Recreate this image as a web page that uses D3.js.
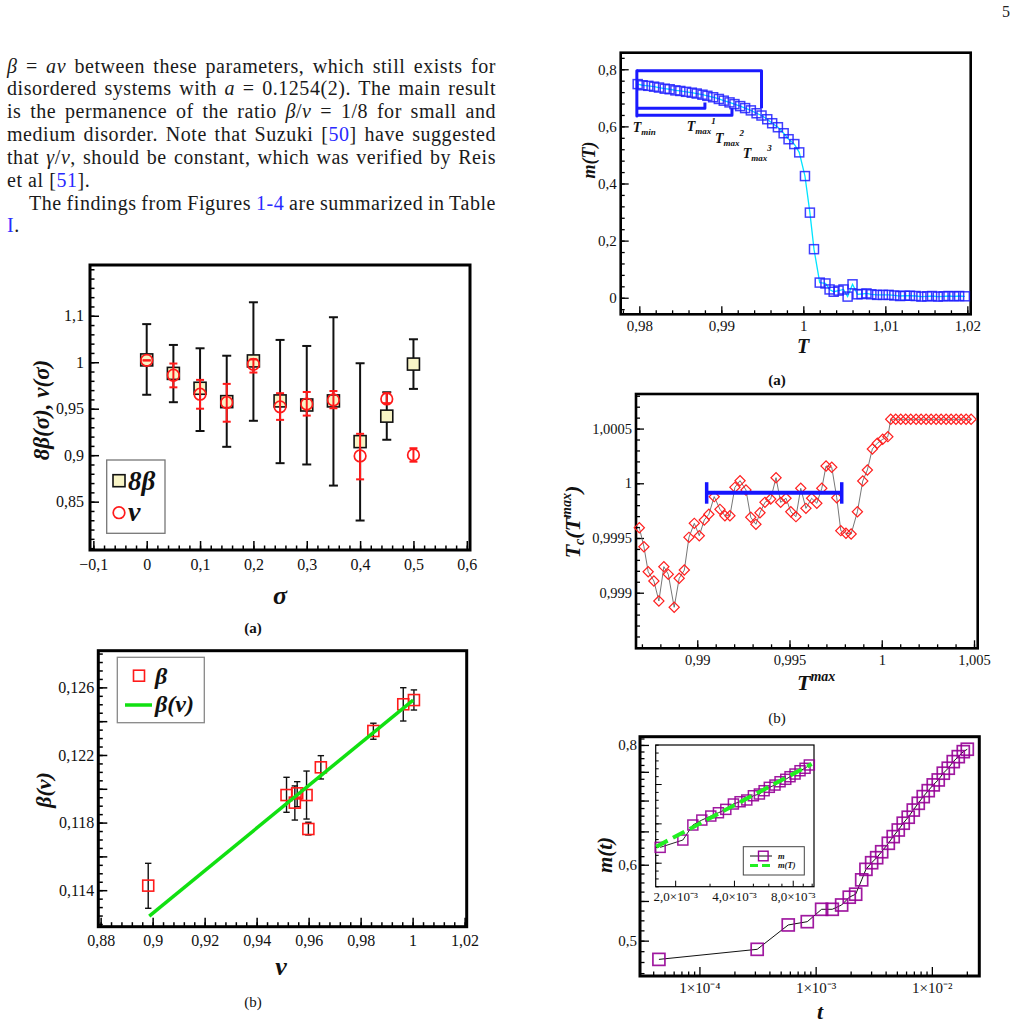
<!DOCTYPE html>
<html>
<head>
<meta charset="utf-8">
<script src="https://cdn.jsdelivr.net/npm/d3@7"></script>
<style>
  body { margin: 0; background: #fff; }
  svg { display: block; }
  text { font-family: "Liberation Serif", "Times New Roman", serif; }
</style>
</head>
<body>
<svg id="page" width="1029" height="1027"></svg>
<script>
// ---------- data ----------

// (a) left: 8*beta and nu versus sigma
const sigma   = [0, 0.05, 0.1, 0.15, 0.2, 0.25, 0.3, 0.35, 0.4, 0.45, 0.5];
const beta8   = [1.0025, 0.988, 0.972, 0.9576, 1.0014, 0.9584, 0.954, 0.9584, 0.9146, 0.942, 0.998];
const beta8Lo = [0.965, 0.957, 0.926, 0.909, 0.937, 0.8914, 0.890, 0.8673, 0.8297, 0.9166, 0.9713];
const beta8Hi = [1.041, 1.0186, 1.015, 1.007, 1.0645, 1.024, 1.0175, 1.0484, 0.9989, 0.9677, 1.0247];
const nuVal   = [1.002, 0.986, 0.9656, 0.9566, 0.9978, 0.952, 0.955, 0.9594, 0.8992, 0.9605, 0.9003];
const nuLo    = [1.002, 0.973, 0.950, 0.936, 0.9889, 0.938, 0.9426, 0.9505, 0.874, 0.956, 0.893];
const nuHi    = [1.002, 0.9986, 0.981, 0.9767, 1.003, 0.9667, 0.968, 0.969, 0.923, 0.9667, 0.9075];
const sigmaTicks = ["\u22120,1", "0", "0,1", "0,2", "0,3", "0,4", "0,5", "0,6"];
const ratioTicks = ["0,85", "0,9", "0,95", "1", "1,1"];

// (b) left: beta versus nu
const nuB     = [0.8983, 0.9515, 0.9547, 0.9556, 0.9592, 0.9599, 0.9647, 0.9849, 0.9964, 1.0005];
const betaB   = [0.11427, 0.11963, 0.11918, 0.11973, 0.11963, 0.11762, 0.12127, 0.12342, 0.1250, 0.12525];
const betaBLo = [0.11293, 0.11861, 0.11815, 0.11894, 0.11821, 0.11727, 0.12058, 0.12293, 0.12401, 0.12466];
const betaBHi = [0.11559, 0.12068, 0.12017, 0.12042, 0.12105, 0.11802, 0.12196, 0.12388, 0.12598, 0.12585];
const fitNu   = [0.8987, 1.0002];
const fitBeta = [0.11247, 0.12525];
const nuTicks   = ["0,88", "0,9", "0,92", "0,94", "0,96", "0,98", "1", "1,02"];
const betaTicks = ["0,114", "", "0,118", "", "0,122", "", "0,126"];

// (a) right: m(T)
const tempT = [0.9798, 0.9804, 0.9811, 0.9818, 0.9824, 0.9831, 0.9837, 0.9844, 0.9850, 0.9857,
               0.9864, 0.9870, 0.9877, 0.9883, 0.9890, 0.9897, 0.9903, 0.9910, 0.9916, 0.9923,
               0.9929, 0.9936, 0.9943, 0.9949, 0.9956, 0.9962, 0.9969, 0.9976, 0.9982, 0.9989,
               0.9995, 1.0002, 1.0008, 1.0013, 1.0020, 1.0027, 1.0032, 1.0037, 1.0043, 1.0049,
               1.0054, 1.0060, 1.0066, 1.0071, 1.0077, 1.0083, 1.0090, 1.0097, 1.0104, 1.0111,
               1.0118, 1.0124, 1.0130, 1.0137, 1.0144, 1.0151, 1.0157, 1.0164, 1.0171, 1.0177,
               1.0184, 1.0190, 1.0197];
const magT  = [0.748, 0.744, 0.742, 0.739, 0.736, 0.732, 0.730, 0.726, 0.724, 0.721,
               0.718, 0.715, 0.711, 0.707, 0.702, 0.696, 0.690, 0.684, 0.678, 0.671,
               0.664, 0.656, 0.646, 0.638, 0.625, 0.611, 0.597, 0.576, 0.555, 0.538,
               0.509, 0.426, 0.298, 0.170, 0.053, 0.050, 0.029, 0.021, 0.025, 0.029,
               0.004, 0.047, 0.012, 0.013, 0.015, 0.012, 0.010, 0.010, 0.010, 0.008,
               0.006, 0.007, 0.007, 0.006, 0.004, 0.005, 0.006, 0.004, 0.005, 0.006,
               0.005, 0.006, 0.005];
const tMin = 0.9797;
const tMaxMarks   = [0.9880, 0.9913, 0.9949];
const bracketLine = [0.6634, 0.639, 0.795];
const bracketEnd  = [0.684, 0.6634, 0.6634];
const bracketLeft = [0.795, 0.636];
const tempTicks = ["0,98", "0,99", "1", "1,01", "1,02"];
const magTicks  = ["0", "0,2", "0,4", "0,6", "0,8"];

// (b) right: Tc(Tmax)
const tMaxB = [0.98686, 0.98711, 0.98734, 0.98765, 0.98792, 0.98819, 0.98843, 0.98875, 0.98902, 0.98930,
               0.98955, 0.98984, 0.99011, 0.99038, 0.99063, 0.99092, 0.99123, 0.99150, 0.99177, 0.99204,
               0.99232, 0.99264, 0.99290, 0.99318, 0.99340, 0.99367, 0.99398, 0.99427, 0.99452, 0.99481,
               0.99507, 0.99535, 0.99561, 0.99589, 0.99620, 0.99648, 0.99675, 0.99698, 0.99729, 0.99756,
               0.99778, 0.99806, 0.99834, 0.99868, 0.99897, 0.99922, 0.99949, 0.99976, 1.00005, 1.00033,
               1.000486, 1.000757, 1.001029, 1.001300, 1.001571, 1.001860, 1.002131, 1.002402, 1.002674,
               1.002945, 1.003216, 1.003487, 1.003758, 1.004029, 1.004300, 1.004572, 1.004843];
const tcB   = [0.999594, 0.99942, 0.999192, 0.999107, 0.998924, 0.999238, 0.999168, 0.998867, 0.999132, 0.999207,
               0.999506, 0.999634, 0.999521, 0.999665, 0.999717, 0.999878, 0.999762, 0.999704, 0.999704, 0.999963,
               1.000024, 0.999939, 0.999689, 0.999625, 0.999731, 0.999826, 0.999856, 1.000051, 0.999826, 0.999863,
               0.999740, 0.999695, 0.999954, 0.999771, 0.999863, 0.999817, 0.999954, 1.000158, 1.000146, 0.999868,
               0.999567, 0.999543, 0.999537, 0.999740, 1.000021, 1.000122, 1.000314, 1.000366, 1.000402, 1.000426,
               1.000585, 1.000585, 1.000585, 1.000585, 1.000585, 1.000585, 1.000585, 1.000585, 1.000585,
               1.000585, 1.000585, 1.000585, 1.000585, 1.000585, 1.000585, 1.000585, 1.000585];
const plateau = { from: 0.99051, to: 0.99783, tc: 0.999914 };
const tmaxTicks = ["0,99", "0,995", "1", "1,005"];
const tcTicks   = ["0,999", "0,9995", "1", "1,0005"];

// (c) right: m(t), log-log, with inset
const timeMain = [4.48e-5, 3.14e-4, 5.81e-4, 8.47e-4, 1.126e-3, 1.39e-3, 1.674e-3, 1.946e-3, 2.21e-3, 2.49e-3,
                  2.709e-3, 3.033e-3, 3.35e-3, 3.70e-3, 4.22e-3, 4.65e-3, 5.14e-3, 5.67e-3, 6.26e-3, 6.92e-3,
                  7.64e-3, 8.43e-3, 9.31e-3, 1.028e-2, 1.135e-2, 1.254e-2, 1.384e-2, 1.528e-2, 1.688e-2, 1.864e-2,
                  2.018e-2];
const magMain  = [0.478, 0.4897, 0.5192, 0.5233, 0.5391, 0.5391, 0.5447, 0.555, 0.559, 0.5786,
                  0.5934, 0.6029, 0.6102, 0.6190, 0.6317, 0.6419, 0.6522, 0.6629, 0.6725, 0.6842,
                  0.6954, 0.7066, 0.7168, 0.7268, 0.7355, 0.7475, 0.7565, 0.7686, 0.7778, 0.7872,
                  0.7918];
const timeIn = [1.676e-3, 2.19e-3, 2.464e-3, 2.739e-3, 3.045e-3, 3.331e-3, 3.634e-3, 3.974e-3, 4.30e-3, 4.654e-3,
                5.03e-3, 5.40e-3, 5.71e-3, 6.07e-3, 6.49e-3, 6.89e-3, 7.37e-3, 7.75e-3, 8.22e-3, 8.72e-3,
                9.25e-3, 9.73e-3];
const magIn  = [0.6195, 0.6288, 0.6479, 0.6542, 0.6593, 0.6635, 0.6678, 0.6746, 0.6775, 0.6797,
                0.6851, 0.6873, 0.6915, 0.6958, 0.6987, 0.7029, 0.706, 0.7093, 0.7127, 0.7169,
                0.72, 0.7242];
const fitTimeIn = [1.599e-3, 1.0008e-2];
const fitMagIn  = [0.6203, 0.7254];
const timeTicks = ["1\u00d710\u207b\u2074", "1\u00d710\u207b\u00b3", "1\u00d710\u207b\u00b2"];
const insetTicks = ["2,0\u00d710\u207b\u00b3", "4,0\u00d710\u207b\u00b3", "8,0\u00d710\u207b\u00b3"];
const mtTicks = ["0,5", "", "0,6", "", "", "", "0,8"];

// ---------- drawing ----------
const svg = d3.select("#page");
const serif = '"Liberation Serif", "Times New Roman", serif';

function styleAxis(sel, fs, lw) {
  sel.select(".domain").remove();
  sel.selectAll(".tick line").attr("stroke", "#000").attr("stroke-width", lw || 1.3);
  sel.selectAll(".tick text").attr("fill", "#111")
    .style("font-family", serif).style("font-size", fs + "px");
}

function panel(o) {
  const g = svg.append("g");
  const x = (o.xlog ? d3.scaleLog() : d3.scaleLinear()).domain(o.xd).range([o.left, o.right]);
  const y = (o.ylog ? d3.scaleLog() : d3.scaleLinear()).domain(o.yd).range([o.bottom, o.top]);
  const fs = o.fs || 15;
  if (o.fill) {
    g.append("rect").attr("x", o.left).attr("y", o.top)
      .attr("width", o.right - o.left).attr("height", o.bottom - o.top).attr("fill", o.fill);
  }
  g.append("g").attr("transform", `translate(0,${o.bottom})`)
    .call(d3.axisBottom(x).tickValues(o.xMinor).tickSize(-o.minor).tickFormat(""))
    .call(s => styleAxis(s, fs, o.tickW));
  g.append("g").attr("transform", `translate(0,${o.bottom})`)
    .call(d3.axisBottom(x).tickValues(o.xMajor).tickSize(-o.major).tickPadding(o.xPad)
      .tickFormat((d, i) => o.xLabels ? o.xLabels[i] : ""))
    .call(s => styleAxis(s, fs, o.tickW));
  g.append("g").attr("transform", `translate(${o.left},0)`)
    .call(d3.axisLeft(y).tickValues(o.yMinor).tickSize(-o.minor).tickFormat(""))
    .call(s => styleAxis(s, fs, o.tickW));
  g.append("g").attr("transform", `translate(${o.left},0)`)
    .call(d3.axisLeft(y).tickValues(o.yMajor).tickSize(-o.major).tickPadding(o.yPad)
      .tickFormat((d, i) => o.yLabels ? o.yLabels[i] : ""))
    .call(s => styleAxis(s, fs, o.tickW));
  g.append("rect").attr("x", o.left).attr("y", o.top)
    .attr("width", o.right - o.left).attr("height", o.bottom - o.top)
    .attr("fill", "none").attr("stroke", "#000").attr("stroke-width", o.frame);
  return { g, x, y };
}

function label(g, x, y, parts, size, opts) {
  opts = opts || {};
  const t = g.append("text").attr("x", x).attr("y", y)
    .attr("text-anchor", opts.anchor || "start")
    .style("font-size", size + "px")
    .style("font-weight", opts.weight || "bold")
    .style("font-style", opts.style || "italic")
    .attr("fill", "#111");
  if (opts.rotate) t.attr("transform", `rotate(-90,${x},${y})`);
  parts.forEach(p => {
    const s = t.append("tspan").text(p.t);
    if (p.sub) s.attr("dy", p.dy || 4).style("font-size", (p.fs || size * 0.6) + "px");
    if (p.sup) s.attr("dy", p.dy || -size * 0.45).style("font-size", (p.fs || size * 0.6) + "px");
    if (p.back) s.attr("dy", p.back);
  });
  return t;
}

function errBars(g, xs, lo, hi, x, y, cap, color, w) {
  const idx = d3.range(xs.length);
  g.append("g").selectAll("line").data(idx).join("line")
    .attr("x1", i => x(xs[i])).attr("x2", i => x(xs[i]))
    .attr("y1", i => y(lo[i])).attr("y2", i => y(hi[i]))
    .attr("stroke", color).attr("stroke-width", w);
  [lo, hi].forEach(arr => {
    g.append("g").selectAll("line").data(idx).join("line")
      .attr("x1", i => x(xs[i]) - cap).attr("x2", i => x(xs[i]) + cap)
      .attr("y1", i => y(arr[i])).attr("y2", i => y(arr[i]))
      .attr("stroke", color).attr("stroke-width", w);
  });
}

function squares(g, xs, ys, x, y, side, stroke, fill, w, op) {
  g.append("g").selectAll("rect").data(d3.range(xs.length)).join("rect")
    .attr("x", i => x(xs[i]) - side / 2).attr("y", i => y(ys[i]) - side / 2)
    .attr("width", side).attr("height", side)
    .attr("fill", fill).attr("stroke", stroke).attr("stroke-width", w)
    .attr("opacity", op || 1);
}

// ----- page text -----
svg.append("text").attr("x", 1006).attr("y", 17).attr("text-anchor", "middle")
  .style("font-size", "16px").attr("fill", "#222").text("5");

const blue = "#2a2aff";
const lines = [
  { x: 7, w: 489, p: [["β", "i"], [" = "], ["aν", "i"], [" between these parameters, which still exists for"]] },
  { x: 7, w: 489, p: [["disordered systems with "], ["a", "i"], [" = 0.1254(2). The main result"]] },
  { x: 7, w: 489, p: [["is the permanence of the ratio "], ["β", "i"], ["/"], ["ν", "i"], [" = 1/8 for small and"]] },
  { x: 7, w: 489, p: [["medium disorder. Note that Suzuki ["], ["50", "b"], ["] have suggested"]] },
  { x: 7, w: 489, p: [["that "], ["γ", "i"], ["/"], ["ν", "i"], [", should be constant, which was verified by Reis"]] },
  { x: 7, w: 0,   p: [["et al ["], ["51", "b"], ["]."]] },
  { x: 29, w: 467, p: [["The findings from Figures "], ["1-4", "b"], [" are summarized in Table"]] },
  { x: 7, w: 0,   p: [["I", "b"], ["."]] }
];
lines.forEach((ln, k) => {
  const t = svg.append("text").attr("x", ln.x).attr("y", 72.5 + k * 22.85)
    .style("font-size", "20px").style("letter-spacing", "0.55px")
    .style("white-space", "pre").attr("fill", "#1a1a1a");
  ln.p.forEach(([s, f]) => {
    const sp = t.append("tspan").text(s);
    if (f === "i") sp.style("font-style", "italic");
    if (f === "b") sp.attr("fill", blue);
  });
  if (ln.w) {
    const natural = t.node().getComputedTextLength();
    const gaps = ln.p.map(d => d[0]).join("").split(" ").length - 1;
    t.style("word-spacing", ((ln.w - natural) / gaps) + "px");
  }
});

// ----- (a) left -----
{
  const P = panel({
    left: 90, right: 470, top: 265, bottom: 550,
    xd: [-0.1063, 0.606], yd: [0.798, 1.1046],
    xMajor: d3.range(-0.1, 0.61, 0.1), xLabels: sigmaTicks, xMinor: d3.range(-0.1, 0.606, 0.02),
    yMajor: [0.85, 0.9, 0.95, 1, 1.05], yLabels: ratioTicks, yMinor: d3.range(0.8, 1.1, 0.01),
    major: 9, minor: 4.5, xPad: 9, yPad: 6, fs: 16, frame: 3, tickW: 1.5
  });
  const { g, x, y } = P;
  errBars(g, sigma, beta8Lo, beta8Hi, x, y, 4.5, "#111", 2);
  squares(g, sigma, beta8, x, y, 12, "#111", "#f8f4c6", 1.6);
  errBars(g, sigma, nuLo, nuHi, x, y, 4, "#ff1a1a", 2);
  g.append("g").selectAll("circle").data(d3.range(sigma.length)).join("circle")
    .attr("cx", i => x(sigma[i])).attr("cy", i => y(nuVal[i])).attr("r", 5.8)
    .attr("fill", "none").attr("stroke", "#ff1a1a").attr("stroke-width", 1.7);

  // legend
  g.append("rect").attr("x", 106.7).attr("y", 460).attr("width", 58.3).attr("height", 73.3)
    .attr("fill", "#fff").attr("stroke", "#777").attr("stroke-width", 1.3);
  g.append("rect").attr("x", 113).attr("y", 474.7).attr("width", 12).attr("height", 12)
    .attr("fill", "#f8f4c6").attr("stroke", "#111").attr("stroke-width", 1.6);
  label(g, 128, 490, [{ t: "8β" }], 27);
  g.append("circle").attr("cx", 119).attr("cy", 512.7).attr("r", 5.8)
    .attr("fill", "none").attr("stroke", "#ff1a1a").attr("stroke-width", 1.7);
  label(g, 128, 521, [{ t: "ν" }], 28);

  label(g, 49, 410, [{ t: "8β(σ), ν(σ)" }], 23, { rotate: true, anchor: "middle" });
  label(g, 280, 604, [{ t: "σ" }], 26, { anchor: "middle" });
  label(g, 253, 633, [{ t: "(a)" }], 15, { anchor: "middle", style: "normal" });
}

// ----- (b) left -----
{
  const P = panel({
    left: 98.3, right: 466.7, top: 650.7, bottom: 926.7,
    xd: [0.8791, 1.0208], yd: [0.11184, 0.12817],
    xMajor: d3.range(0.88, 1.021, 0.02), xLabels: nuTicks, xMinor: d3.range(0.88, 1.0208, 0.004),
    yMajor: d3.range(0.114, 0.1271, 0.002), yLabels: betaTicks, yMinor: d3.range(0.112, 0.1282, 0.0005),
    major: 9, minor: 4.5, xPad: 8, yPad: 4, fs: 16, frame: 3, tickW: 1.5
  });
  const { g, x, y } = P;
  errBars(g, nuB, betaBLo, betaBHi, x, y, 3.2, "#111", 1.4);
  squares(g, nuB, betaB, x, y, 11, "#ff1a1a", "none", 1.6);
  g.append("path").datum(d3.range(fitNu.length))
    .attr("d", d3.line().x(i => x(fitNu[i])).y(i => y(fitBeta[i])))
    .attr("stroke", "#11e011").attr("stroke-width", 3.5).attr("fill", "none");

  g.append("rect").attr("x", 117.3).attr("y", 657.3).attr("width", 87).attr("height", 65.4)
    .attr("fill", "#fff").attr("stroke", "#888").attr("stroke-width", 1.3);
  g.append("rect").attr("x", 133.5).attr("y", 670.2).attr("width", 11).attr("height", 11)
    .attr("fill", "none").attr("stroke", "#ff1a1a").attr("stroke-width", 1.6);
  label(g, 155, 684, [{ t: "β" }], 24);
  g.append("line").attr("x1", 125).attr("x2", 152).attr("y1", 705).attr("y2", 705)
    .attr("stroke", "#11e011").attr("stroke-width", 3.5);
  label(g, 155, 712, [{ t: "β(ν)" }], 24);

  label(g, 51, 790, [{ t: "β(ν)" }], 22, { rotate: true, anchor: "middle" });
  label(g, 281, 975, [{ t: "ν" }], 26, { anchor: "middle" });
  label(g, 253, 1007, [{ t: "(b)" }], 15, { anchor: "middle", style: "normal", weight: "normal" });
}

// ----- (a) right -----
{
  const P = panel({
    left: 620.7, right: 970.7, top: 52.7, bottom: 314.3,
    xd: [0.97773, 1.02041], yd: [-0.058, 0.858],
    xMajor: d3.range(0.98, 1.0201, 0.01), xLabels: tempTicks, xMinor: d3.range(0.978, 1.0204, 0.002),
    yMajor: [0, 0.2, 0.4, 0.6, 0.8], yLabels: magTicks, yMinor: d3.range(-0.04, 0.85, 0.04),
    major: 8, minor: 4, xPad: 6, yPad: 4, fs: 15, frame: 2.6, tickW: 1.3
  });
  const { g, x, y } = P;
  g.append("path").datum(d3.range(tempT.length))
    .attr("d", d3.line().x(i => x(tempT[i])).y(i => y(magT[i])))
    .attr("stroke", "#00e4ff").attr("stroke-width", 1.3).attr("fill", "none");
  squares(g, tempT, magT, x, y, 9, "#1f1fff", "none", 1.5, 0.85);

  // Tmin / Tmax brackets
  tMaxMarks.forEach((tm, k) => {
    g.append("path")
      .attr("d", d3.line()([[x(tMin), y(bracketLine[k])], [x(tm), y(bracketLine[k])], [x(tm), y(bracketEnd[k])]]))
      .attr("stroke", "#1a1aff").attr("stroke-width", 3).attr("fill", "none").attr("stroke-linejoin", "round");
  });
  g.append("line").attr("x1", x(tMin)).attr("x2", x(tMin))
    .attr("y1", y(bracketLeft[0])).attr("y2", y(bracketLeft[1]))
    .attr("stroke", "#1a1aff").attr("stroke-width", 3).attr("stroke-linecap", "round");

  label(g, 632.7, 131.7, [{ t: "T" }, { t: "min", sub: true, dy: 3, fs: 9 }], 14);
  const sup = n => [{ t: "T" }, { t: "max", sub: true, dy: 3, fs: 9 }, { t: n, sup: true, dy: -10, fs: 9 }];
  label(g, 686.7, 130.7, sup("1"), 14);
  label(g, 715, 143.3, sup("2"), 14);
  label(g, 742.7, 158.3, sup("3"), 14);

  label(g, 595, 160, [{ t: "m(T)" }], 18, { rotate: true, anchor: "middle" });
  label(g, 803, 353, [{ t: "T" }], 20, { anchor: "middle" });
  label(g, 777, 385, [{ t: "(a)" }], 15, { anchor: "middle", style: "normal" });
}

// ----- (b) right -----
{
  const P = panel({
    left: 636, right: 977.7, top: 394, bottom: 648.3,
    xd: [0.98668, 1.0052], yd: [0.998492, 1.000816],
    xMajor: [0.99, 0.995, 1, 1.005], xLabels: tmaxTicks, xMinor: d3.range(0.987, 1.0052, 0.001),
    yMajor: [0.999, 0.9995, 1, 1.0005], yLabels: tcTicks, yMinor: d3.range(0.9985, 1.00081, 0.0001),
    major: 8, minor: 4, xPad: 6, yPad: 4, fs: 14.5, frame: 2.6, tickW: 1.3
  });
  const { g, x, y } = P;
  g.append("path").datum(d3.range(tMaxB.length))
    .attr("d", d3.line().x(i => x(tMaxB[i])).y(i => y(tcB[i])))
    .attr("stroke", "#666").attr("stroke-width", 0.9).attr("fill", "none");
  g.append("g").selectAll("path").data(d3.range(tMaxB.length)).join("path")
    .attr("d", d3.symbol(d3.symbolSquare, 52))
    .attr("transform", i => `translate(${x(tMaxB[i])},${y(tcB[i])}) rotate(45)`)
    .attr("fill", "none").attr("stroke", "#ff2020").attr("stroke-width", 1.2);

  const yb = y(plateau.tc);
  g.append("line").attr("x1", x(plateau.from)).attr("x2", x(plateau.to)).attr("y1", yb).attr("y2", yb)
    .attr("stroke", "#1515ff").attr("stroke-width", 4);
  [plateau.from, plateau.to].forEach(v => {
    g.append("line").attr("x1", x(v)).attr("x2", x(v)).attr("y1", yb - 10.5).attr("y2", yb + 11)
      .attr("stroke", "#1515ff").attr("stroke-width", 3.5);
  });

  label(g, 580, 522, [{ t: "T" }, { t: "c", sub: true, dy: 4, fs: 14 }, { t: "(", back: -4 }, { t: "T" },
    { t: "max", sup: true, dy: -9, fs: 14 }, { t: ")", back: 9 }], 22, { rotate: true, anchor: "middle" });
  label(g, 797, 690, [{ t: "T" }, { t: "max", sup: true, dy: -9, fs: 14 }], 22);
  label(g, 777, 723, [{ t: "(b)" }], 15, { anchor: "middle", style: "normal", weight: "normal" });
}

// ----- (c) right: log-log with inset -----
{
  const P = panel({
    left: 640, right: 979.3, top: 736.7, bottom: 976,
    xlog: true, ylog: true, xd: [3.08e-5, 2.56e-2], yd: [0.4593, 0.816],
    xMajor: [1e-4, 1e-3, 1e-2], xLabels: timeTicks,
    xMinor: [4e-5, 5e-5, 6e-5, 7e-5, 8e-5, 9e-5, 2e-4, 3e-4, 4e-4, 5e-4, 6e-4, 7e-4, 8e-4, 9e-4,
             2e-3, 3e-3, 4e-3, 5e-3, 6e-3, 7e-3, 8e-3, 9e-3, 2e-2],
    yMajor: [0.5, 0.55, 0.6, 0.65, 0.7, 0.75, 0.8], yLabels: mtTicks,
    yMinor: d3.range(0.4625, 0.815, 0.0125),
    major: 9, minor: 4.5, xPad: 6, yPad: 3, fs: 15, frame: 3, tickW: 1.3
  });
  const { g, x, y } = P;
  g.append("path").datum(d3.range(timeMain.length))
    .attr("d", d3.line().x(i => x(timeMain[i])).y(i => y(magMain[i])))
    .attr("stroke", "#111").attr("stroke-width", 1).attr("fill", "none");
  squares(g, timeMain, magMain, x, y, 12, "#960096", "none", 1.7, 0.9);

  // inset
  const I = panel({
    left: 655.7, right: 814, top: 745, bottom: 886.7, fill: "#fff",
    xlog: true, xd: [1.59e-3, 1.028e-2], yd: [0.5695, 0.7496],
    xMajor: [2e-3, 4e-3, 8e-3], xLabels: insetTicks, xMinor: [3e-3, 5e-3, 6e-3, 7e-3, 9e-3, 1e-2],
    yMajor: [0.6, 0.65, 0.7], yMinor: d3.range(0.57, 0.75, 0.01),
    major: 6, minor: 3, xPad: 5, yPad: 3, fs: 13, frame: 1.2, tickW: 1
  });
  I.g.append("path").datum(d3.range(timeIn.length))
    .attr("d", d3.line().x(i => I.x(timeIn[i])).y(i => I.y(magIn[i])))
    .attr("stroke", "#111").attr("stroke-width", 0.9).attr("fill", "none");
  squares(I.g, timeIn, magIn, I.x, I.y, 10, "#960096", "none", 1.5, 0.9);
  I.g.append("path").datum(d3.range(fitTimeIn.length))
    .attr("d", d3.line().x(i => I.x(fitTimeIn[i])).y(i => I.y(fitMagIn[i])))
    .attr("stroke", "#22ee22").attr("stroke-width", 4).attr("stroke-dasharray", "13 6").attr("fill", "none");

  I.g.append("rect").attr("x", 743.3).attr("y", 846.7).attr("width", 61).attr("height", 28.3)
    .attr("fill", "#fff").attr("stroke", "#444").attr("stroke-width", 1);
  I.g.append("line").attr("x1", 750).attr("x2", 772).attr("y1", 856).attr("y2", 856)
    .attr("stroke", "#111").attr("stroke-width", 1);
  I.g.append("rect").attr("x", 758.5).attr("y", 851.2).attr("width", 9.6).attr("height", 9.6)
    .attr("fill", "none").attr("stroke", "#960096").attr("stroke-width", 1.4);
  I.g.append("line").attr("x1", 750).attr("x2", 773).attr("y1", 865.5).attr("y2", 865.5)
    .attr("stroke", "#22ee22").attr("stroke-width", 3).attr("stroke-dasharray", "8 4");
  label(I.g, 778, 858.5, [{ t: "m" }], 8.5);
  label(I.g, 778, 868, [{ t: "m(T)" }], 8.5);

  label(g, 612, 855, [{ t: "m(t)" }], 21, { rotate: true, anchor: "middle" });
  label(g, 820, 1019, [{ t: "t" }], 22, { anchor: "middle" });
}
</script>
</body>
</html>
